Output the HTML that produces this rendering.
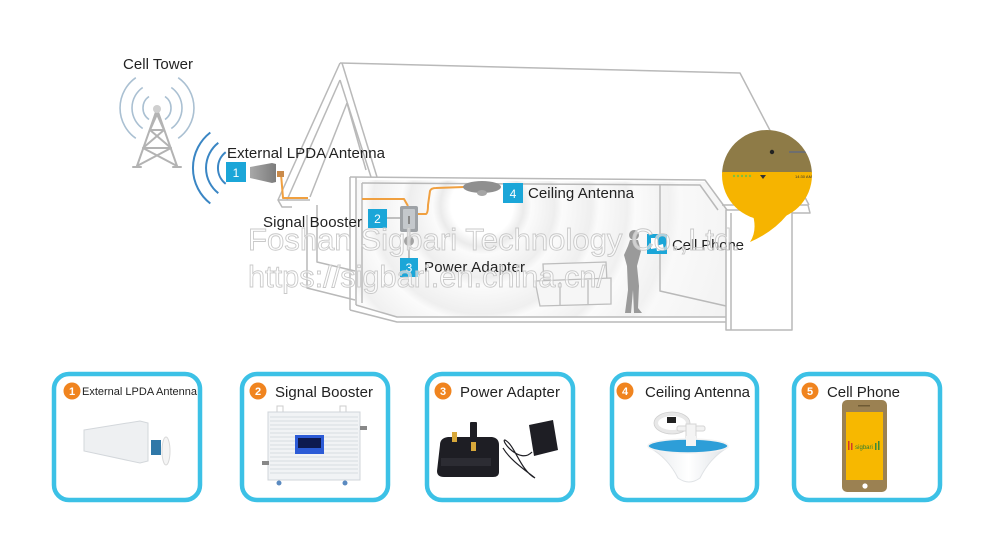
<!DOCTYPE html>
<html><head><meta charset="utf-8"><style>
html,body{margin:0;padding:0;background:#fff;}
svg{display:block;font-family:"Liberation Sans",Arial,sans-serif;}
</style></head><body>
<svg width="1000" height="555" viewBox="0 0 1000 555" xmlns="http://www.w3.org/2000/svg">
<defs>
<radialGradient id="rings" cx="482" cy="205" r="260" gradientUnits="userSpaceOnUse">
<stop offset="0" stop-color="#ffffff"/>
<stop offset="0.12" stop-color="#ffffff"/>
<stop offset="0.16" stop-color="#ebebeb"/>
<stop offset="0.19" stop-color="#fbfbfb"/>
<stop offset="0.28" stop-color="#eeeeee"/>
<stop offset="0.31" stop-color="#fbfbfb"/>
<stop offset="0.42" stop-color="#efefef"/>
<stop offset="0.45" stop-color="#fbfbfb"/>
<stop offset="0.56" stop-color="#f0f0f0"/>
<stop offset="0.59" stop-color="#fbfbfb"/>
<stop offset="0.72" stop-color="#f1f1f1"/>
<stop offset="0.76" stop-color="#f9f9f9"/>
<stop offset="1" stop-color="#f3f3f3"/>
</radialGradient>
<clipPath id="bub"><circle cx="767" cy="175" r="45"/></clipPath>
<linearGradient id="ant" x1="0" y1="0" x2="1" y2="0">
<stop offset="0" stop-color="#a8a8a8"/><stop offset="1" stop-color="#7c7c7c"/>
</linearGradient>
<linearGradient id="cone" x1="0" y1="0" x2="1" y2="0">
<stop offset="0" stop-color="#e6e9ec"/><stop offset="0.5" stop-color="#ffffff"/><stop offset="1" stop-color="#dfe3e7"/>
</linearGradient>
</defs>
<rect width="1000" height="555" fill="#fff"/>

<!-- Cell tower -->
<text x="123" y="69" font-size="15" fill="#222" textLength="70">Cell Tower</text>
<g fill="none" stroke="#aac0d2" stroke-width="1.6">
<path d="M149,96.5 A14,14 0 0 0 149,119.5"/>
<path d="M142.7,87.5 A25,25 0 0 0 142.7,128.5"/>
<path d="M135.8,77.7 A37,37 0 0 0 135.8,138.3"/>
<path d="M165,96.5 A14,14 0 0 1 165,119.5"/>
<path d="M171.3,87.5 A25,25 0 0 1 171.3,128.5"/>
<path d="M178.2,77.7 A37,37 0 0 1 178.2,138.3"/>
</g>
<g stroke="#b3b3b3" stroke-width="2" fill="none" stroke-linecap="round">
<path d="M156,112 L137,166 M158,112 L177,166"/>
<path d="M150,130 L164,130 M143,148 L171,148"/>
<path d="M156,112 L164,130 M158,112 L150,130 M150,130 L171,148 M164,130 L143,148 M143,148 L177,166 M171,148 L137,166"/>
<path d="M133,167 L141,167 M173,167 L181,167"/>
</g>
<circle cx="157" cy="109" r="4" fill="#cfcfcf"/>

<!-- Antenna arcs -->
<g fill="none" stroke="#3a86c4" stroke-width="2">
<path d="M225.7,152.2 A20,20 0 0 0 225.7,183.8"/>
<path d="M218.3,142.8 A32,32 0 0 0 218.3,193.2"/>
<path d="M210.3,132.5 A45,45 0 0 0 210.3,203.5"/>
</g>

<!-- House: room fill -->
<polygon points="356,180 705,182 726,210 726,317 397,317 356,305" fill="url(#rings)"/>

<!-- House lines -->
<g fill="none" stroke="#b9b9b9" stroke-width="1.5" stroke-linejoin="round">
<path d="M340,63 L740,73 L809,205"/>
<path d="M340,63 L278,200 L282,207 L292,207"/>
<path d="M340,80 L287,200"/>
<path d="M347,103 L310,197"/>
<path d="M342,63 L377,177"/>
<path d="M340,80 L371,177"/>
<path d="M347,103 L366,170"/>
<path d="M278,200 L310,200"/>
<path d="M307,215 L307,288 L355,300"/>
<path d="M317,205 L317,262 L355,271"/>
<path d="M350,177 L705,180 L727,210"/>
<path d="M362,183 L700,185 L718,210"/>
<path d="M350,177 L350,310 M356,177 L356,305 M362,183 L362,303"/>
<path d="M350,310 L397,322 L726,322"/>
<path d="M356,305 L397,317 L726,317"/>
<path d="M660,185 L660,291 L726,306"/>
<path d="M726,210 L726,330 L792,330 L792,210 Z"/>
<path d="M731,213 L731,330"/>
<path d="M722,205 L808,205 L810,213 L792,213"/>
</g>

<!-- Sofa -->
<g fill="#f6f6f6" stroke="#bdbdbd" stroke-width="1.3">
<path d="M543,264 L606,262 L607,282 L544,284 Z"/>
<path d="M535,281 L611,278 L611,304 L540,306 Z"/>
<path d="M560,282 L560,305 M588,280 L588,304"/>
</g>

<!-- Person -->
<g fill="#9a9a9a">
<circle cx="634" cy="235" r="5"/>
<path d="M630,240 L638,240 L641,251 L637,266 L639,286 L638,308 L642,313 L634,313 L633,290 L631,313 L625,313 L628,290 L627,266 L624,255 L628,246 Z"/>
</g>

<!-- Cables -->
<g fill="none" stroke="#f0a040" stroke-width="2" stroke-linejoin="round">
<path d="M281,174 L283,198 L308,198"/>
<path d="M362,199 L404,199 L408,206"/>
<path d="M418,214 L426,214 Q428,213 428,205 L430,191 Q431,188 436,188 L464,187"/>
</g>

<!-- External antenna -->
<polygon points="250,167 272,163 276,164 276,182 272,183 250,178" fill="url(#ant)"/>
<rect x="277" y="171" width="7" height="6" fill="#c98a4a"/>

<!-- Booster in diagram -->
<path d="M387,218 L400,218" stroke="#9a9a9a" stroke-width="1.2"/>
<rect x="400" y="206" width="18" height="26" rx="2" fill="#9ea2a6"/>
<rect x="403" y="209" width="12" height="20" rx="1" fill="#c4c8cc"/>
<rect x="408" y="216" width="2" height="8" fill="#888"/>
<path d="M409,232 L409,236 M409,246 L409,258" stroke="#9a9a9a" stroke-width="1.2"/>
<circle cx="409" cy="241" r="5" fill="#a3a3a3"/>

<!-- Ceiling antenna in diagram -->
<ellipse cx="482" cy="187" rx="19" ry="6" fill="#8f8f8f"/>
<ellipse cx="482" cy="193" rx="5" ry="3" fill="#a5a5a5"/>

<!-- Badges -->
<g font-size="12" fill="#fff" text-anchor="middle">
<rect x="226" y="162" width="20" height="20" fill="#1ba6d8"/><text x="236" y="177">1</text>
<rect x="368" y="209" width="19" height="19" fill="#1ba6d8"/><text x="377.5" y="223">2</text>
<rect x="400" y="258" width="18" height="19" fill="#1ba6d8"/><text x="409" y="272">3</text>
<rect x="503" y="183" width="20" height="20" fill="#1ba6d8"/><text x="513" y="198">4</text>
<rect x="647" y="234" width="20" height="20" fill="#1ba6d8"/>
</g>
<path d="M651,238 L656,238 Q660,242 657,248 L651,249 Z M656,246 L663,244 L664,250 L657,251 Z" fill="#fff"/>

<!-- Diagram labels -->
<g fill="#222" font-size="15">
<text x="227" y="158" textLength="158">External LPDA Antenna</text>
<text x="263" y="227" textLength="99">Signal Booster</text>
<text x="424" y="272" textLength="101">Power Adapter</text>
<text x="528" y="198" textLength="106">Ceiling Antenna</text>
<text x="672" y="250" textLength="72">Cell Phone</text>
</g>

<!-- Bubble -->
<path d="M752,212 Q758,230 750,242 Q773,232 787,215 Z" fill="#f6b400"/>
<g clip-path="url(#bub)">
<rect x="720" y="128" width="95" height="45" fill="#8e7b47"/>
<rect x="720" y="172" width="95" height="50" fill="#f6b400"/>
<circle cx="772" cy="152" r="2.2" fill="#222"/>
<path d="M789,152 L806,152" stroke="#6e6e6e" stroke-width="2"/>
<g fill="#7fbf3f"><circle cx="734" cy="176" r="1.2"/><circle cx="738" cy="176" r="1.2"/><circle cx="742" cy="176" r="1.2"/><circle cx="746" cy="176" r="1.2"/><circle cx="750" cy="176" r="1.2"/></g>
<path d="M760,175 L766,175 L763,179 Z" fill="#333"/>
<text x="795" y="178" font-size="4" fill="#333">14:30 AM</text>
</g>

<!-- Watermark -->
<g font-size="31" fill="#ffffff" fill-opacity="0.55" stroke="#c9c9c9" stroke-width="0.9">
<text x="248" y="250" textLength="492" lengthAdjust="spacingAndGlyphs">Foshan Sigbari Technology Co.,Ltd.</text>
<text x="248" y="287" textLength="357" lengthAdjust="spacingAndGlyphs">https://sigbari.en.china.cn/</text>
</g>

<!-- Bottom boxes -->
<g fill="none" stroke="#3cc1e6" stroke-width="4.5">
<rect x="54" y="374" width="146" height="126" rx="15"/>
<rect x="242" y="374" width="146" height="126" rx="15"/>
<rect x="427" y="374" width="146" height="126" rx="15"/>
<rect x="612" y="374" width="145" height="126" rx="15"/>
<rect x="794" y="374" width="146" height="126" rx="15"/>
</g>
<g fill="#f0841f">
<circle cx="72" cy="391" r="8.5"/><circle cx="258" cy="391" r="8.5"/><circle cx="443" cy="391" r="8.5"/><circle cx="625" cy="391" r="8.5"/><circle cx="810" cy="391" r="8.5"/>
</g>
<g fill="#fff" font-size="11" font-weight="bold" text-anchor="middle">
<text x="72" y="395">1</text><text x="258" y="395">2</text><text x="443" y="395">3</text><text x="625" y="395">4</text><text x="810" y="395">5</text>
</g>
<g fill="#222">
<text x="82" y="395" font-size="11" textLength="115">External LPDA Antenna</text>
<text x="275" y="397" font-size="15" textLength="98">Signal Booster</text>
<text x="460" y="397" font-size="15" textLength="100">Power Adapter</text>
<text x="645" y="397" font-size="15" textLength="105">Ceiling Antenna</text>
<text x="827" y="397" font-size="15" textLength="73">Cell Phone</text>
</g>

<!-- Box1: LPDA antenna -->
<polygon points="84,430 140,421 148,423 148,461 140,463 84,451" fill="#eef0f2" stroke="#d3d7db" stroke-width="1"/>
<rect x="151" y="440" width="10" height="15" fill="#2f78a8"/>
<ellipse cx="166" cy="451" rx="4" ry="14" fill="#f4f4f4" stroke="#d8d8d8"/>

<!-- Box2: booster -->
<rect x="277" y="406" width="6" height="7" fill="#fff" stroke="#ccc"/>
<rect x="340" y="406" width="6" height="7" fill="#fff" stroke="#ccc"/>
<rect x="268" y="412" width="92" height="68" fill="#f1f3f5" stroke="#d0d5da"/>
<g stroke="#d7dce1" stroke-width="1">
<path d="M270,417H358M270,421H358M270,425H358M270,429H358M270,433H358M270,437H358M270,441H358M270,445H358M270,449H358M270,453H358M270,457H358M270,461H358M270,465H358M270,469H358M270,473H358"/>
</g>
<rect x="295" y="435" width="29" height="19" fill="#2c5bd6"/>
<rect x="298" y="438" width="23" height="10" fill="#0d1a50"/>
<rect x="262" y="461" width="7" height="4" fill="#888"/>
<rect x="360" y="426" width="7" height="4" fill="#888"/>
<circle cx="279" cy="483" r="2.5" fill="#5a8ac0"/><circle cx="345" cy="483" r="2.5" fill="#5a8ac0"/>

<!-- Box3: power adapter -->
<rect x="470" y="422" width="7" height="20" rx="1" fill="#1e1e24"/>
<path d="M440,445 Q440,438 448,437 L492,437 Q499,438 499,445 L499,472 Q499,477 493,477 L444,477 Q437,477 437,471 Z" fill="#1e1e24"/>
<rect x="441" y="458" width="50" height="8" fill="#2c2c33"/>
<rect x="452" y="432" width="5" height="10" fill="#d8a83a"/>
<rect x="471" y="442" width="5" height="9" fill="#d8a83a"/>
<path d="M529,425 L553,420 L558,450 L534,456 Z" fill="#1e1e24"/>
<path d="M532,452 C520,465 500,440 505,440 C515,445 520,470 535,478 C525,470 510,460 503,448" fill="none" stroke="#1e1e24" stroke-width="1.2"/>

<!-- Box4: ceiling antenna -->
<ellipse cx="672" cy="423" rx="16" ry="9" fill="none" stroke="#e8e8e8" stroke-width="4"/>
<ellipse cx="672" cy="423" rx="18" ry="11" fill="none" stroke="#cfcfcf" stroke-width="0.8"/>
<rect x="667" y="417" width="9" height="6" fill="#222"/>
<rect x="677" y="426" width="28" height="5" rx="2" fill="#f2f2f2" stroke="#d5d5d5"/>
<rect x="686" y="424" width="10" height="22" fill="#f4f4f4" stroke="#d5d5d5"/>
<path d="M650,448 Q668,458 678,478 Q689,486 700,478 Q710,458 727,448 Z" fill="url(#cone)" stroke="#dfe2e5"/>
<ellipse cx="688" cy="446" rx="40" ry="7" fill="#2d9ed8" stroke="#f2f2f2" stroke-width="1.5"/>
<rect x="686" y="436" width="10" height="10" fill="#f4f4f4"/>

<!-- Box5: phone -->
<rect x="842" y="400" width="45" height="92" rx="5" fill="#9b8152"/>
<rect x="846" y="412" width="37" height="68" fill="#f7b800"/>
<circle cx="865" cy="486" r="2.6" fill="#fff"/>
<rect x="858" y="405" width="12" height="1.5" fill="#6e5a34"/>
<g fill="#d23a2a"><rect x="848" y="441" width="1.5" height="9"/><rect x="851" y="443" width="1.5" height="7"/></g>
<g fill="#3a8a3a"><rect x="878" y="441" width="1.5" height="9"/><rect x="875" y="443" width="1.5" height="7"/></g>
<text x="864" y="449" font-size="6" fill="#2f7d2f" text-anchor="middle">sigbari</text>
</svg>
</body></html>
